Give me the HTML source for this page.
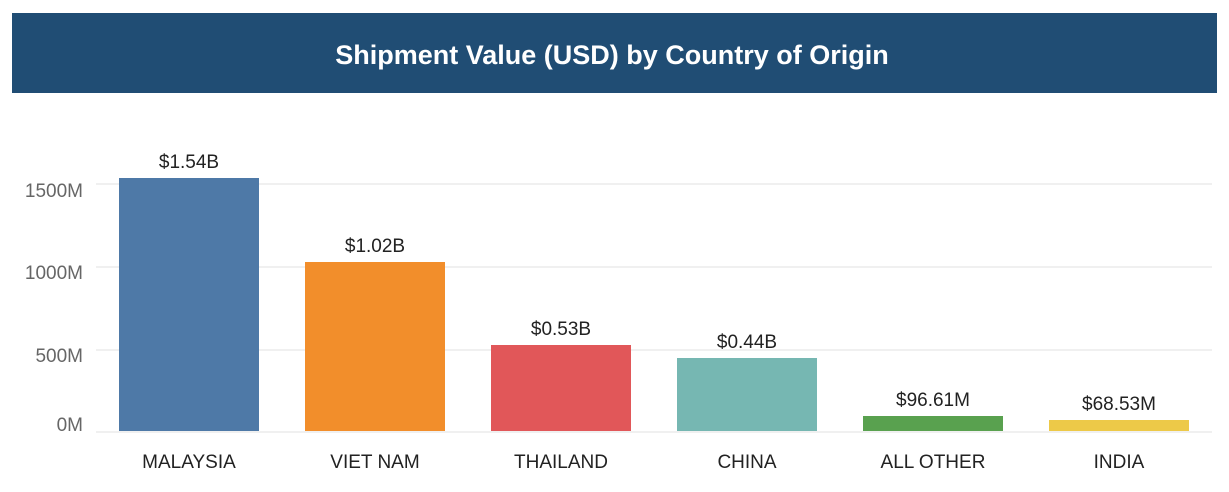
<!DOCTYPE html>
<html><head><meta charset="utf-8"><style>
body{margin:0;background:#fff;width:1229px;height:487px;overflow:hidden;font-family:"Liberation Sans",sans-serif;}
</style></head><body>
<svg width="1229" height="487" xmlns="http://www.w3.org/2000/svg" font-family="Liberation Sans, sans-serif">
<rect x="12" y="13" width="1205" height="80" fill="#204d74"/>
<text x="612" y="64" fill="#fff" font-size="27" font-weight="bold" text-anchor="middle">Shipment Value (USD) by Country of Origin</text>
<g stroke="#ececec" stroke-width="1.5">
<line x1="96" x2="1212" y1="184" y2="184"/>
<line x1="96" x2="1212" y1="267" y2="267"/>
<line x1="96" x2="1212" y1="350" y2="350"/>
<line x1="96" x2="1212" y1="432" y2="432"/>
</g>
<g font-size="19" fill="#666" text-anchor="end">
<text x="83" y="197">1500M</text>
<text x="83" y="279">1000M</text>
<text x="83" y="362">500M</text>
<text x="83" y="431">0M</text>
</g>
<rect x="119" y="178" width="140" height="253" fill="#4e79a7"/>
<rect x="305" y="262" width="140" height="169" fill="#f28e2b"/>
<rect x="491" y="345" width="140" height="86" fill="#e15759"/>
<rect x="677" y="358" width="140" height="73" fill="#76b7b2"/>
<rect x="863" y="416" width="140" height="15" fill="#59a14f"/>
<rect x="1049" y="420" width="140" height="11" fill="#edc948"/>
<g font-size="19" fill="#222" text-anchor="middle">
<text x="189" y="168">$1.54B</text>
<text x="375" y="252">$1.02B</text>
<text x="561" y="335">$0.53B</text>
<text x="747" y="348">$0.44B</text>
<text x="933" y="406">$96.61M</text>
<text x="1119" y="410">$68.53M</text>
<text x="189" y="468">MALAYSIA</text>
<text x="375" y="468">VIET NAM</text>
<text x="561" y="468">THAILAND</text>
<text x="747" y="468">CHINA</text>
<text x="933" y="468">ALL OTHER</text>
<text x="1119" y="468">INDIA</text>
</g>
</svg>
</body></html>
